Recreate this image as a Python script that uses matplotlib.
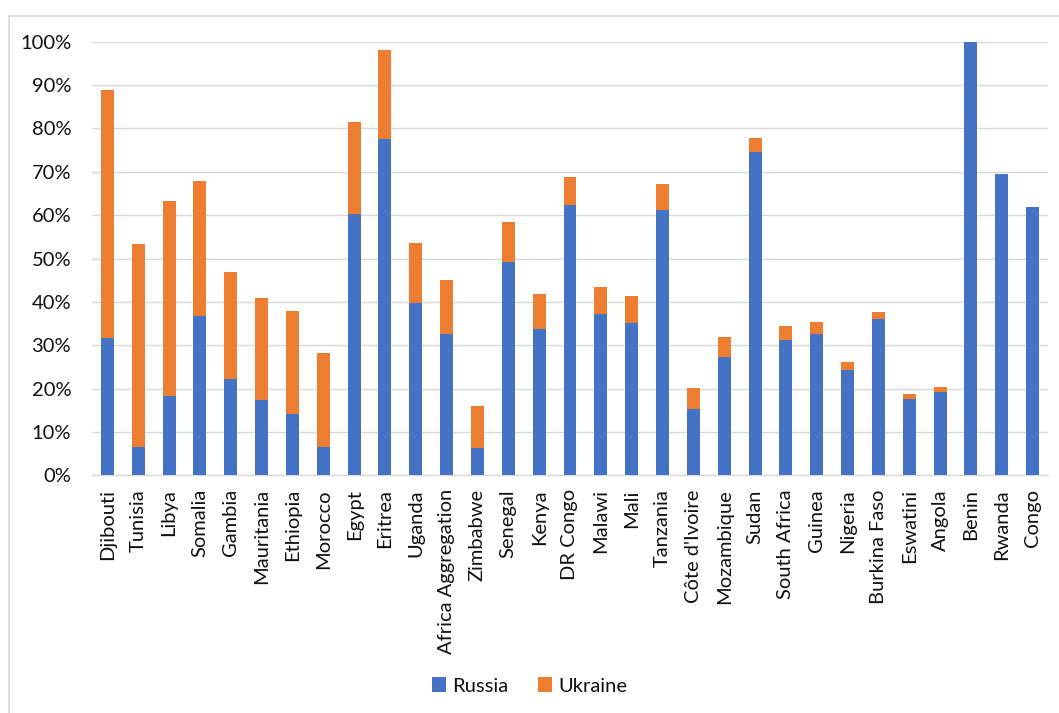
import matplotlib
matplotlib.use("Agg")
import matplotlib.pyplot as plt
from matplotlib.patches import Rectangle
from matplotlib.ticker import PercentFormatter
import numpy as np

countries = ["Djibouti", "Tunisia", "Libya", "Somalia", "Gambia", "Mauritania",
             "Ethiopia", "Morocco", "Egypt", "Eritrea", "Uganda", "Africa Aggregation",
             "Zimbabwe", "Senegal", "Kenya", "DR Congo", "Malawi", "Mali", "Tanzania",
             "Côte d'Ivoire", "Mozambique", "Sudan", "South Africa", "Guinea", "Nigeria",
             "Burkina Faso", "Eswatini", "Angola", "Benin", "Rwanda", "Congo"]
russia = [31.7, 6.5, 18.3, 36.8, 22.3, 17.3, 14.1, 6.6, 60.3, 77.6, 39.7, 32.7,
          6.3, 49.3, 33.7, 62.3, 37.2, 35.1, 61.1, 15.4, 27.2, 74.5, 31.3, 32.7,
          24.3, 36.0, 17.6, 19.1, 100.0, 69.6, 61.8]
ukraine = [57.1, 46.8, 45.0, 31.1, 24.6, 23.7, 23.8, 21.7, 21.2, 20.4, 13.9, 12.4,
           9.6, 9.2, 8.2, 6.5, 6.2, 6.3, 6.0, 4.8, 4.6, 3.3, 3.2, 2.6,
           1.9, 1.6, 1.2, 1.3, 0.0, 0.0, 0.0]
series_names = ["Russia", "Ukraine"]
series_colors = ["#4472C4", "#ED7D31"]

plt.rcParams["font.family"] = ["Lato", "DejaVu Sans"]

fig = plt.figure(figsize=(10.59, 7.13), dpi=100)
ax = fig.add_axes([92 / 1059, 237.7 / 713, (1048 - 92) / 1059, (671.3 - 237.7) / 713])

x = np.arange(len(countries))
w = 0.42
ax.bar(x, russia, w, color=series_colors[0], label=series_names[0], zorder=3)
ax.bar(x, ukraine, w, bottom=russia, color=series_colors[1], label=series_names[1], zorder=3)

ax.set_xlim(-0.5, len(countries) - 0.5)
ax.set_ylim(0, 100)
ax.set_yticks(np.arange(0, 101, 10))
ax.yaxis.set_major_formatter(PercentFormatter(decimals=0))
ax.grid(axis="y", color="#d9d9d9", linewidth=1.0, zorder=0)
ax.set_axisbelow(True)
for s in ["top", "right", "left"]:
    ax.spines[s].set_visible(False)
ax.spines["bottom"].set_color("#d9d9d9")
ax.spines["bottom"].set_linewidth(1.0)

ax.set_xticks(x)
ax.set_xticklabels(countries, rotation=90, fontsize=14.5, color="#111111")
ax.tick_params(axis="x", length=0, pad=10)
ax.tick_params(axis="y", length=0, pad=15, labelsize=14.5, labelcolor="#111111")

fig.legend(loc="center", bbox_to_anchor=(0.5, 27 / 713), ncol=2, frameon=False,
           fontsize=14.5, handlelength=0.7, handleheight=0.7, handletextpad=0.3,
           columnspacing=1.5, labelcolor="#111111")

fig.patches.append(Rectangle((9 / 1059, -0.1), 1.2, 0.1 + 697.5 / 713,
                             transform=fig.transFigure, fill=False,
                             edgecolor="#d9d9d9", linewidth=1.2))

fig.savefig("out.png", dpi=100, facecolor="white")
